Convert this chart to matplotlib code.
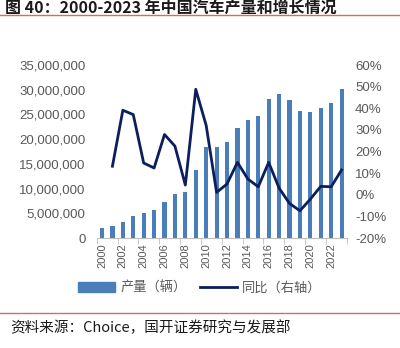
import matplotlib
matplotlib.use("Agg")
import matplotlib.pyplot as plt
import matplotlib.ticker as mticker
import numpy as np

plt.rcParams['font.family'] = ['Noto Sans CJK SC', 'DejaVu Sans']

years = list(range(2000, 2024))
output = [2.07, 2.34, 3.25, 4.44, 5.07, 5.70, 7.28, 8.88, 9.35, 13.79, 18.4, 18.4,
          19.4, 22.2, 23.8, 24.6, 28.2, 29.2, 27.9, 25.8, 25.5, 26.3, 27.3, 30.2]
output = [v * 1e6 for v in output]
growth = [None, 13.2, 39.1, 37.1, 14.7, 12.4, 27.9, 22.5, 4.5, 48.8, 32.1, 1.1,
          5.0, 15.0, 7.3, 3.7, 15.0, 3.1, -4.0, -7.4, -2.0, 3.9, 3.7, 11.5]

bar_color = '#4a7ebb'
line_color = '#0c1f5c'
grey = '#595959'

fig = plt.figure(figsize=(4, 3.48), dpi=100)
ax = fig.add_axes([0.242, 0.316, 0.625, 0.497])
x = np.arange(len(years))
ax.bar(x, output, width=0.4, color=bar_color, zorder=2)
ax.set_ylim(0, 35e6)
ax.set_xlim(-0.5, len(years) - 0.5)
ax.yaxis.set_major_locator(mticker.MultipleLocator(5e6))
ax.yaxis.set_major_formatter(mticker.FuncFormatter(lambda v, p: f"{int(v):,}"))
ax.set_xticks(x[::2])
ax.set_xticklabels([str(y) for y in years[::2]], rotation=90, fontsize=8,
                   color=grey, family='Liberation Sans')
ax.set_xticks(np.arange(-0.5, len(years), 2), minor=True)
ax.tick_params(axis='x', which='major', length=0, pad=4)
ax.tick_params(axis='x', which='minor', length=4, color='#bfbfbf')
ax.tick_params(axis='y', length=0, labelsize=9.5, labelcolor=grey, pad=8)
for lab in ax.get_yticklabels():
    lab.set_family('Liberation Sans')
for s in ['top', 'left', 'right']:
    ax.spines[s].set_visible(False)
ax.spines['bottom'].set_color('#bfbfbf')

ax2 = ax.twinx()
gx = [i for i, g in zip(x, growth) if g is not None]
gy = [g for g in growth if g is not None]
ax2.plot(gx, gy, color=line_color, lw=2.0, zorder=3)
ax2.set_ylim(-20, 60)
ax2.yaxis.set_major_locator(mticker.MultipleLocator(10))
ax2.yaxis.set_major_formatter(mticker.FuncFormatter(lambda v, p: f"{int(v)}%"))
ax2.tick_params(axis='y', length=0, labelsize=9.5, labelcolor=grey, pad=6)
for lab in ax2.get_yticklabels():
    lab.set_family('Liberation Sans')
for s in ['top', 'left', 'right', 'bottom']:
    ax2.spines[s].set_visible(False)

# legend
from matplotlib.patches import Patch
from matplotlib.lines import Line2D
handles = [Patch(color=bar_color), Line2D([0], [0], color=line_color, lw=2.0)]
leg = fig.legend(handles, ['产量（辆）', '同比（右轴）'], loc='center',
                 bbox_to_anchor=(0.5, 0.172), ncol=2, frameon=False,
                 fontsize=9.5, handlelength=2.8, columnspacing=1.0,
                 handletextpad=0.4)
for t in leg.get_texts():
    t.set_color(grey)

# title & source
fig.text(0.012, 0.978, '图 40：2000-2023 年中国汽车产量和增长情况', fontsize=11.5,
         fontweight='bold', va='center', ha='left', color='#1a1a1a')
fig.add_artist(Line2D([0, 1], [0.957, 0.957], color='#e06666', lw=1.0))
fig.add_artist(Line2D([0, 1], [0.1, 0.1], color='#e06666', lw=1.0))
fig.text(0.025, 0.057, '资料来源：Choice，国开证券研究与发展部', fontsize=10.5,
         va='center', ha='left', color='#1a1a1a')

fig.savefig('out.png', dpi=100)
